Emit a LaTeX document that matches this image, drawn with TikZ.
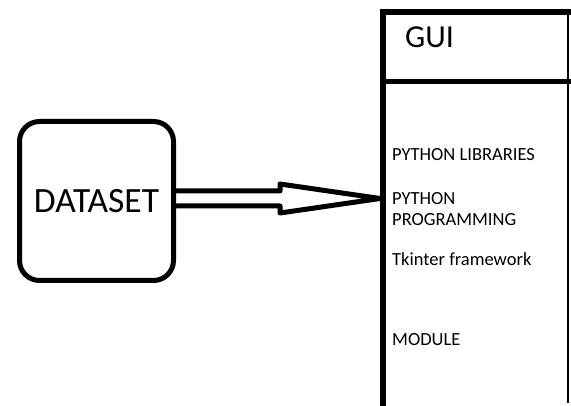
\documentclass[tikz,border=0pt]{standalone}
\usepackage{fontspec}
\setmainfont{Carlito}
\usetikzlibrary{calc}
\begin{document}
\begin{tikzpicture}[x=1pt,y=-1pt,
  box node/.style={draw,line width=5pt,rounded corners=20pt,minimum width=154pt,minimum height=159pt,font=\fontsize{35.5}{40}\selectfont},
  item/.style={anchor=west,inner sep=0pt,font=\fontsize{18.5}{21}\selectfont,align=left}]
  \useasboundingbox (0,0) rectangle (571,406);
  \node[box node] (dataset) at (96.5,201) {DATASET};

  % GUI panel
  \coordinate (ne) at (571,12.5);
  \coordinate (nw) at (383,12.5);
  \coordinate (sw) at (383,406);
  \coordinate (tip) at (380,198.5);
  \draw[line width=6pt] (ne) -- (nw) -- (sw);
  \draw[line width=5pt] (nw |- 0,81.5) -- (ne |- 0,81.5);
  \draw[line width=1.5pt] (568,12.5) -- (568,403);

  \node[anchor=west,inner sep=0pt,font=\fontsize{32}{36}\selectfont] (gui) at (405,37) {GUI};
  \node[item] (libs) at (392,155) {PYTHON LIBRARIES};
  \node[item] (prog) at (392,209.5) {PYTHON\\PROGRAMMING};
  \node[item] (tkinter) at (392,259) {Tkinter framework};
  \node[item] (module) at (392,340) {MODULE};

  \draw[line width=5pt,line join=round]
   ($(dataset.east |- tip)+(0,-7.5)$) -- ++(104,0) -- ++(0,-7) -- (tip)
   -- ++(-100,14.5) -- ++(0,-7) -- ($(dataset.east |- tip)+(0,7.5)$);
\end{tikzpicture}
\end{document}
